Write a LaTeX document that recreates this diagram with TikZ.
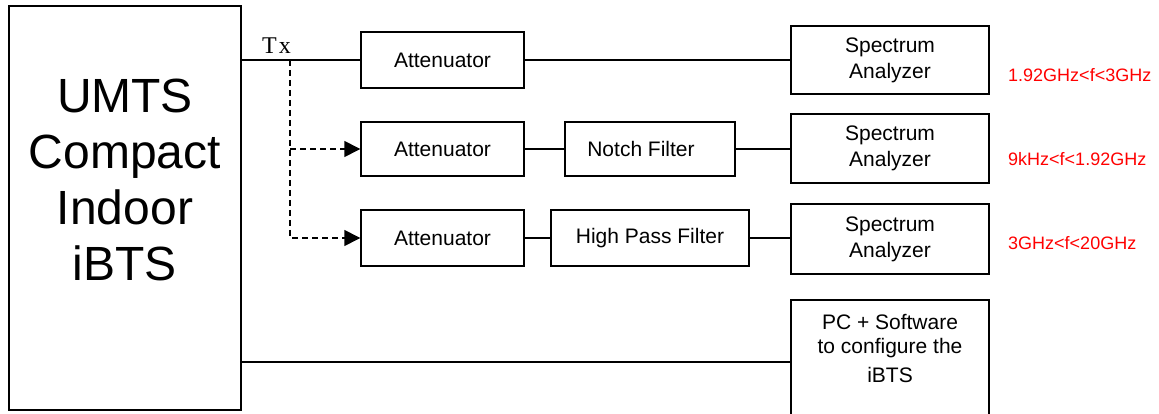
\documentclass[tikz,border=0pt]{standalone}
\usepackage{fontspec}
\setmainfont{Liberation Sans}
\newfontfamily\txfont{Liberation Serif}
\usetikzlibrary{arrows.meta}
\tikzset{
  blk/.style={draw, line width=1.4pt, inner sep=0pt, align=center, font=\fontsize{21}{26}\selectfont},
  wire/.style={line width=1.4pt},
  dwire/.style={line width=1.4pt, dash pattern=on 6pt off 4pt, -{Triangle[length=16pt,width=16pt]}},
  freq/.style={anchor=base west, text=red, inner sep=0pt, font=\fontsize{18}{20}\selectfont},
  txt/.style={inner sep=0pt, align=center, anchor=base}
}
\begin{document}
\begin{tikzpicture}[x=1pt,y=-1pt]
\clip (0,0) rectangle (1159,414);
\fill[white] (0,0) rectangle (1159,414);
% main box
\node[blk, minimum width=232pt, minimum height=404pt] (main) at (125,208) {};
\node[txt, font=\fontsize{48}{56}\selectfont] (maintext) at (125,280) {UMTS\\Compact\\Indoor\\iBTS};
% attenuators
\node[blk, minimum width=163pt, minimum height=56pt] (att1) at (442.5,60) {Attenuator};
\node[blk, minimum width=163pt, minimum height=54pt] (att2) at (442.5,149) {Attenuator};
\node[blk, minimum width=163pt, minimum height=56pt] (att3) at (442.5,238) {Attenuator};
% filters
\node[blk, minimum width=170pt, minimum height=54pt] (notch) at (650,149) {Notch Filter\hspace{18pt}};
\node[blk, minimum width=198pt, minimum height=56pt] (hpf) at (650,238) {High Pass Filter};
% spectrum analyzers
\node[blk, minimum width=198pt, minimum height=68pt] (sa1) at (890,60) {Spectrum\\Analyzer};
\node[blk, minimum width=198pt, minimum height=69pt] (sa2) at (890,148.5) {Spectrum\\Analyzer};
\node[blk, minimum width=198pt, minimum height=70pt] (sa3) at (890,239) {Spectrum\\Analyzer};
% PC box
\node[blk, minimum width=198pt, minimum height=124pt] (pc) at (890,362) {};
\node[txt, font=\fontsize{21}{24}\selectfont] (pctext) at (890,382) {PC + Software\\to configure the\\[5pt]iBTS};
% frequency labels
\node[freq] (f1) at (1008,82) {1.92GHz<f<3GHz};
\node[freq] (f2) at (1008,166) {9kHz<f<1.92GHz};
\node[freq] (f3) at (1008,250) {3GHz<f<20GHz};
% Tx label
\node[txt, font=\txfont\fontsize{24}{26}\selectfont] (tx) at (276.5,54) {T\kern2pt x};
% connectors
\coordinate (br) at (290,60);
\draw[wire] (main.east |- att1.west) -- (att1.west);
\draw[wire] (att1.east) -- (sa1.west);
\draw[wire] (att2.east) -- (notch.west);
\draw[wire] (notch.east) -- (sa2.west |- notch.east);
\draw[wire] (att3.east) -- (hpf.west);
\draw[wire] (hpf.east) -- (sa3.west |- hpf.east);
\draw[dwire] (br) -- (br |- att3.west) -- (att3.west);
\draw[dwire] (br |- att2.west) -- (att2.west);
\draw[wire] (main.east |- pc.west) -- (pc.west);
\end{tikzpicture}
\end{document}
